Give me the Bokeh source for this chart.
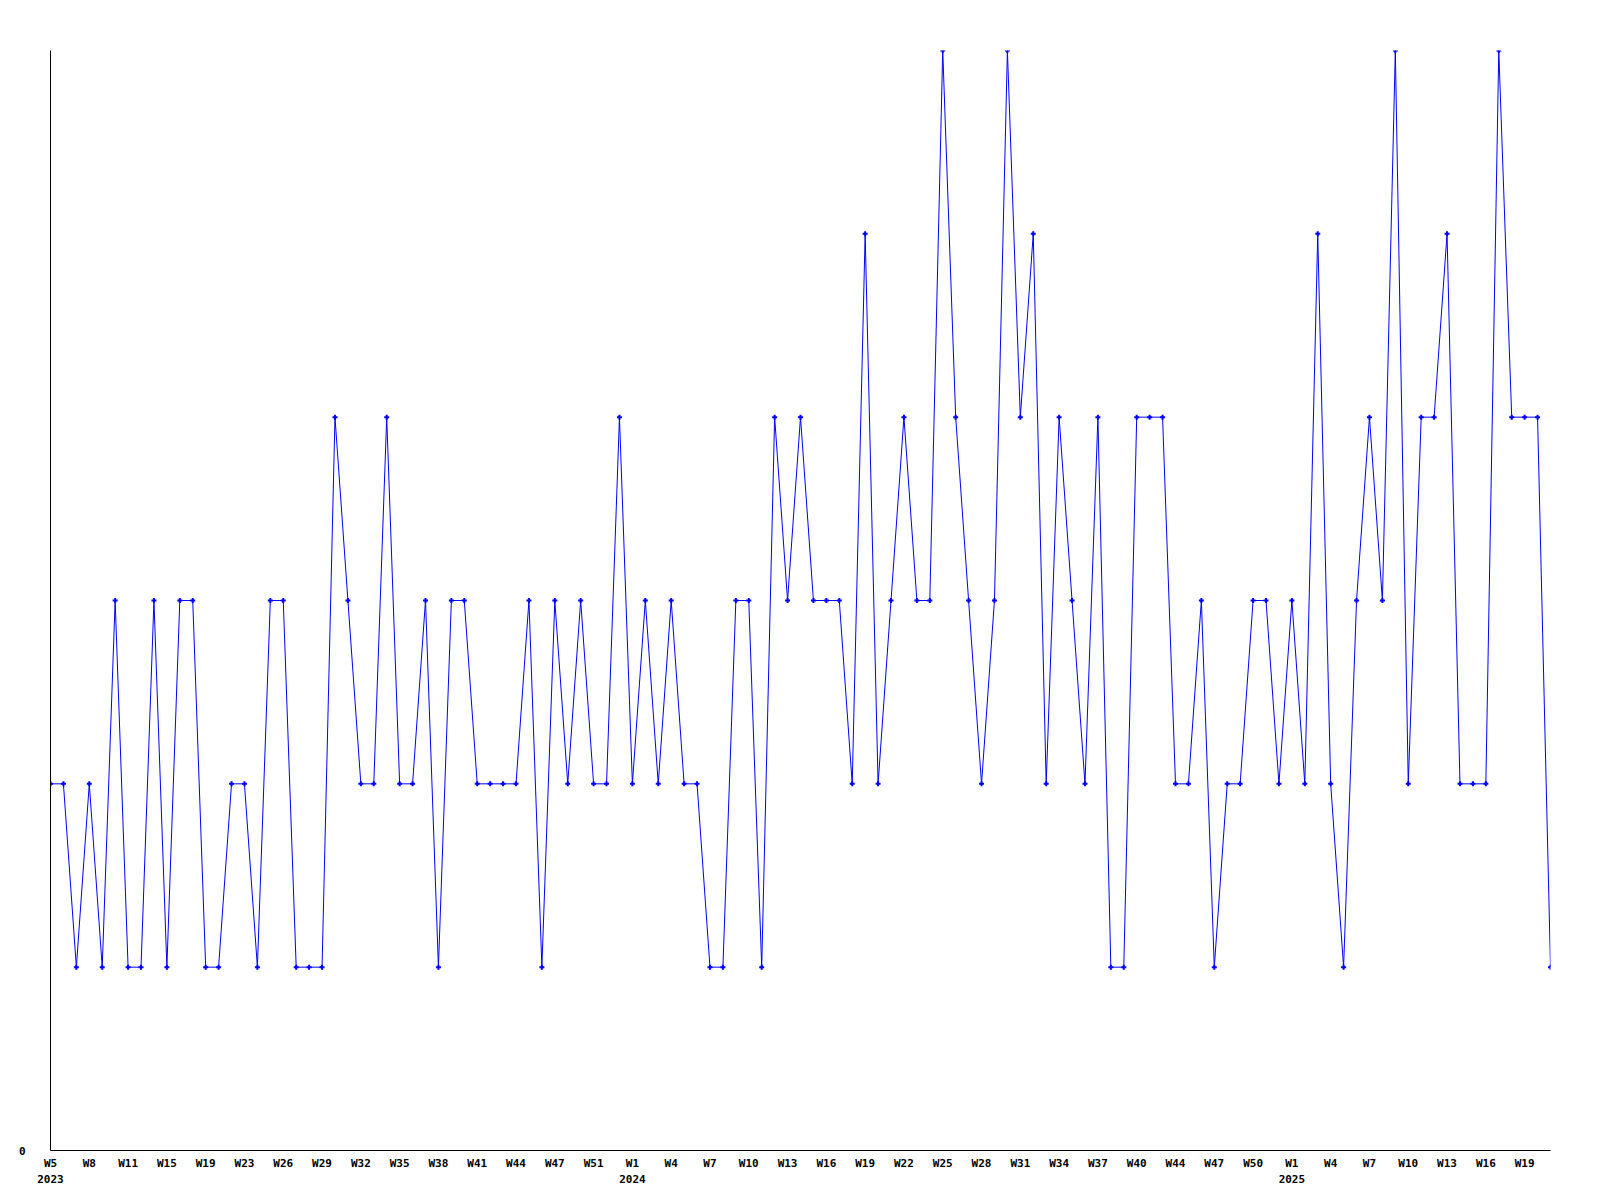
from bokeh.plotting import figure
from bokeh.models import FixedTicker, LinearAxis, Range1d
from bokeh.embed import file_html
from bokeh.resources import INLINE

values = [2, 2, 1, 2, 1, 3, 1, 1, 3, 1, 3, 3, 1, 1, 2, 2, 1, 3, 3, 1,
          1, 1, 4, 3, 2, 2, 4, 2, 2, 3, 1, 3, 3, 2, 2, 2, 2, 3, 1, 3,
          2, 3, 2, 2, 4, 2, 3, 2, 3, 2, 2, 1, 1, 3, 3, 1, 4, 3, 4, 3,
          3, 3, 2, 5, 2, 3, 4, 3, 3, 6, 4, 3, 2, 3, 6, 4, 5, 2, 4, 3,
          2, 4, 1, 1, 4, 4, 4, 2, 2, 3, 1, 2, 2, 3, 3, 2, 3, 2, 5, 2,
          1, 3, 4, 3, 6, 2, 4, 4, 5, 2, 2, 2, 6, 4, 4, 4, 1]

week_labels = ["W5", "W8", "W11", "W15", "W19", "W23", "W26", "W29", "W32", "W35",
               "W38", "W41", "W44", "W47", "W51", "W1", "W4", "W7", "W10", "W13",
               "W16", "W19", "W22", "W25", "W28", "W31", "W34", "W37", "W40", "W44",
               "W47", "W50", "W1", "W4", "W7", "W10", "W13", "W16", "W19"]
label_every = 3
year_labels = {0: "2023", 15: "2024", 32: "2025"}

xs = list(range(len(values)))

p = figure(frame_width=1500, frame_height=1100, min_border_left=50, min_border_right=42,
           min_border_top=50, min_border_bottom=42,
           x_range=Range1d(0, len(values) - 1), y_range=Range1d(0, 6),
           output_backend="svg", toolbar_location=None,
           x_axis_location=None, y_axis_location=None)
p.grid.visible = False
p.outline_line_color = None
p.background_fill_color = "white"

FONT = "DejaVu Sans Mono"

tick_pos = [i * label_every for i in range(len(week_labels))]
xa = LinearAxis(ticker=FixedTicker(ticks=tick_pos),
                major_label_overrides={t: l for t, l in zip(tick_pos, week_labels)})
xa.axis_line_color = "black"
xa.axis_line_width = 1
xa.major_tick_line_color = None
xa.minor_tick_line_color = None
xa.major_tick_out = 0
xa.major_tick_in = 0
xa.major_label_standoff = 6
xa.major_label_text_font = FONT
xa.major_label_text_font_style = "bold"
xa.major_label_text_font_size = "11px"
xa.major_label_text_color = "black"
p.add_layout(xa, "below")

yr_ticks = [tick_pos[i] for i in year_labels]
ya2 = LinearAxis(ticker=FixedTicker(ticks=yr_ticks),
                 major_label_overrides={tick_pos[i]: l for i, l in year_labels.items()})
ya2.axis_line_color = None
ya2.major_tick_line_color = None
ya2.minor_tick_line_color = None
ya2.major_tick_out = 0
ya2.major_tick_in = 0
ya2.major_label_standoff = 2
ya2.major_label_text_font = FONT
ya2.major_label_text_font_style = "bold"
ya2.major_label_text_font_size = "11px"
ya2.major_label_text_color = "black"
p.add_layout(ya2, "below")

ya = LinearAxis(ticker=FixedTicker(ticks=[0]))
ya.axis_line_color = "black"
ya.major_tick_line_color = None
ya.minor_tick_line_color = None
ya.major_tick_out = 0
ya.major_tick_in = 0
ya.major_label_standoff = 25
ya.major_label_text_font = FONT
ya.major_label_text_font_style = "bold"
ya.major_label_text_font_size = "11px"
ya.major_label_text_color = "black"
p.add_layout(ya, "left")

p.line(xs, values, line_color="#0000ff", line_width=1)
p.scatter(xs, values, marker="cross", size=5, line_color="#0000ff", line_width=2)

open("out.html", "w").write(file_html(p, INLINE))
